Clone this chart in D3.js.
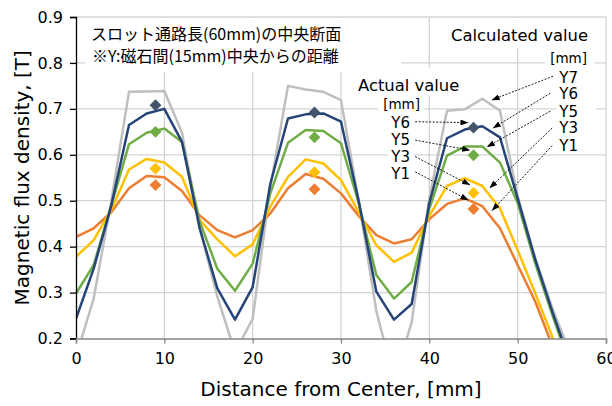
<!DOCTYPE html>
<html>
<head>
<meta charset="utf-8">
<script src="https://cdn.jsdelivr.net/npm/d3@7"></script>
<style>
  body { margin: 0; background: #fff; }
  svg { display: block; font-family: "DejaVu Sans", Verdana, sans-serif; }
  .jp { font-family: "Noto Sans CJK JP", sans-serif; }
</style>
</head>
<body>
<svg id="chart" width="612" height="406"></svg>
<script>
// ---------- Data ----------
const distance = [0, 2, 4, 6, 8, 10, 12, 14, 16, 18, 20, 22, 24, 26, 28,
                  30, 32, 34, 36, 38, 40, 42, 44, 46, 48, 50, 52, 54, 56];

// calculated value [T]
const calcY7 = [0.160, 0.287, 0.500, 0.737, 0.738, 0.739, 0.648, 0.440, 0.291, 0.170, 0.243, 0.530, 0.750, 0.742, 0.737,
                0.719, 0.500, 0.260, 0.110, 0.235, 0.505, 0.696, 0.699, 0.722, 0.696, 0.510, 0.375, 0.262, 0.166];
const calcY6 = [0.243, 0.352, 0.490, 0.665, 0.690, 0.700, 0.628, 0.440, 0.309, 0.241, 0.312, 0.537, 0.679, 0.688, 0.690,
                0.672, 0.500, 0.302, 0.241, 0.275, 0.495, 0.636, 0.655, 0.662, 0.638, 0.505, 0.371, 0.254, 0.146];
const calcY5 = [0.298, 0.360, 0.490, 0.623, 0.648, 0.657, 0.628, 0.455, 0.352, 0.304, 0.363, 0.516, 0.626, 0.654, 0.652,
                0.625, 0.495, 0.338, 0.287, 0.323, 0.483, 0.598, 0.618, 0.618, 0.583, 0.495, 0.363, 0.247, 0.137];
const calcY3 = [0.378, 0.414, 0.480, 0.568, 0.591, 0.583, 0.552, 0.458, 0.416, 0.379, 0.405, 0.487, 0.552, 0.590, 0.581,
                0.545, 0.475, 0.403, 0.367, 0.387, 0.467, 0.532, 0.549, 0.532, 0.483, 0.392, 0.298, 0.200, 0.100];
const calcY1 = [0.421, 0.440, 0.475, 0.527, 0.554, 0.551, 0.521, 0.468, 0.436, 0.420, 0.436, 0.472, 0.527, 0.558, 0.548,
                0.516, 0.467, 0.425, 0.407, 0.416, 0.460, 0.493, 0.505, 0.488, 0.440, 0.360, 0.280, 0.180, 0.080];

// actual (measured) value [T]
const actualDist = [9, 27, 45];
const actY6 = [0.708, 0.692, 0.659];
const actY5 = [0.650, 0.638, 0.599];
const actY3 = [0.570, 0.562, 0.517];
const actY1 = [0.534, 0.525, 0.482];

const xTicks = [0, 10, 20, 30, 40, 50, 60];
const yTicks = [0.2, 0.3, 0.4, 0.5, 0.6, 0.7, 0.8, 0.9];

const calcSeries = [
  { name: "Y7", values: calcY7, color: "#bfbfbf" },
  { name: "Y1", values: calcY1, color: "#ed7d31" },
  { name: "Y3", values: calcY3, color: "#ffc000" },
  { name: "Y5", values: calcY5, color: "#70ad47" },
  { name: "Y6", values: calcY6, color: "#264478" }
];
const actSeries = [
  { name: "Y6", values: actY6, color: "#44546a" },
  { name: "Y5", values: actY5, color: "#70ad47" },
  { name: "Y3", values: actY3, color: "#ffc000" },
  { name: "Y1", values: actY1, color: "#ed7d31" }
];

// ---------- Layout ----------
const width = 612, height = 406;
const margin = { top: 17, right: 6, bottom: 67.5, left: 76 };
const svg = d3.select("#chart");

const x = d3.scaleLinear().domain([0, 60]).range([margin.left, width - margin.right]);
const y = d3.scaleLinear().domain([0.2, 0.9]).range([height - margin.bottom, margin.top]);

svg.append("defs").append("clipPath").attr("id", "plot")
  .append("rect")
  .attr("x", x(0)).attr("y", y(0.9))
  .attr("width", x(60) - x(0)).attr("height", y(0.2) - y(0.9));

// ---------- Grid ----------
const grid = svg.append("g").attr("stroke", "#d4d4d4").attr("stroke-width", 1.3);
grid.selectAll(".h").data(yTicks.slice(1)).join("line")
  .attr("x1", x(0)).attr("x2", x(60))
  .attr("y1", d => y(d)).attr("y2", d => y(d));
grid.selectAll(".v").data(xTicks.slice(1)).join("line")
  .attr("x1", d => x(d)).attr("x2", d => x(d))
  .attr("y1", y(0.9)).attr("y2", y(0.2));

// ---------- Calculated lines ----------
const line = d3.line().x((d, i) => x(distance[i])).y(d => y(d));
svg.append("g").attr("clip-path", "url(#plot)")
  .selectAll("path").data(calcSeries).join("path")
  .attr("d", d => line(d.values))
  .attr("fill", "none")
  .attr("stroke", d => d.color)
  .attr("stroke-width", 2.5)
  .attr("stroke-linejoin", "round");

// ---------- Actual markers ----------
const diamond = d3.symbol().type(d3.symbolSquare).size(70);
actSeries.forEach(s => {
  svg.append("g").selectAll("path").data(s.values).join("path")
    .attr("d", diamond)
    .attr("transform", (d, i) => `translate(${x(actualDist[i])},${y(d)}) rotate(45)`)
    .attr("fill", s.color);
});

// ---------- Axes ----------
const yAxis = svg.append("g")
  .attr("transform", `translate(${x(0)},0)`)
  .call(d3.axisLeft(y).tickValues(yTicks).tickFormat(d3.format(".1f")).tickSize(6).tickPadding(7));
yAxis.select(".domain").attr("stroke", "#000").attr("stroke-width", 1.3);
yAxis.selectAll(".tick line").attr("stroke", "#000").attr("stroke-width", 1.3);
yAxis.selectAll("text").attr("font-size", 16).attr("fill", "#000")
  .attr("font-family", "DejaVu Sans, Verdana, sans-serif");

const xAxis = svg.append("g")
  .attr("transform", `translate(0,${y(0.2)})`)
  .call(d3.axisBottom(x).tickValues(xTicks).tickSize(5).tickPadding(9));
xAxis.select(".domain").attr("stroke", "#868686").attr("stroke-width", 1.5);
xAxis.selectAll(".tick line").attr("stroke", "#868686").attr("stroke-width", 1.3);
xAxis.selectAll("text").attr("font-size", 16).attr("fill", "#000")
  .attr("font-family", "DejaVu Sans, Verdana, sans-serif");

svg.append("text")
  .attr("x", (x(0) + x(60)) / 2).attr("y", 396)
  .attr("text-anchor", "middle").attr("font-size", 20)
  .text("Distance from Center, [mm]");

svg.append("text")
  .attr("transform", `translate(29,${(y(0.2) + y(0.9)) / 2}) rotate(-90)`)
  .attr("text-anchor", "middle").attr("font-size", 20)
  .text("Magnetic flux density, [T]");

// ---------- Annotation boxes ----------
const boxes = [
  [85, 18, 316, 54],   // japanese note
  [448, 18, 152, 30],  // Calculated value
  [545, 49, 50, 19],   // [mm]
  [556, 68, 40, 86],   // calc labels
  [352, 68, 114, 28],  // Actual value
  [378, 96, 46, 17],   // [mm]
  [388, 113, 26, 69]   // actual labels
];
svg.append("g").selectAll("rect").data(boxes).join("rect")
  .attr("x", d => d[0]).attr("y", d => d[1])
  .attr("width", d => d[2]).attr("height", d => d[3])
  .attr("fill", "#fff");

const note = svg.append("text").attr("class", "jp").attr("font-size", 16).attr("fill", "#000");
note.append("tspan").attr("x", 91).attr("y", 40).text("スロット通路長(60mm)の中央断面");
note.append("tspan").attr("x", 92).attr("y", 62).text("※Y:磁石間(15mm)中央からの距離");

svg.append("text").attr("x", 588).attr("y", 41).attr("text-anchor", "end")
  .attr("font-size", 16.4).text("Calculated value");
svg.append("text").attr("x", 587).attr("y", 63).attr("text-anchor", "end")
  .attr("font-size", 13.5).text("[mm]");
svg.append("text").attr("x", 358).attr("y", 90.7)
  .attr("font-size", 16.4).text("Actual value");
svg.append("text").attr("x", 420).attr("y", 109).attr("text-anchor", "end")
  .attr("font-size", 13.5).text("[mm]");

// label position [px] and arrow end in data units
const calcNotes = [
  { t: "Y7", ly: 82.7, from: [54.0, 0.771], to: [47.05, 0.719] },
  { t: "Y6", ly: 99.3, from: [53.7, 0.734], to: [47.19, 0.658] },
  { t: "Y5", ly: 116.7, from: [53.7, 0.695], to: [46.51, 0.617] },
  { t: "Y3", ly: 133.3, from: [53.9, 0.658], to: [46.81, 0.527] },
  { t: "Y1", ly: 150.7, from: [53.9, 0.620], to: [47.08, 0.478] }
];
const actNotes = [
  { t: "Y6", ly: 127.5, from: [38.4, 0.672], to: [44.43, 0.670] },
  { t: "Y5", ly: 144.5, from: [38.4, 0.632], to: [44.62, 0.610] },
  { t: "Y3", ly: 161.5, from: [38.4, 0.596], to: [44.62, 0.534] },
  { t: "Y1", ly: 178.5, from: [38.4, 0.563], to: [44.43, 0.501] }
];

svg.select("defs").append("marker")
  .attr("id", "arrow").attr("viewBox", "0 0 8 6")
  .attr("refX", 8).attr("refY", 3)
  .attr("markerWidth", 8).attr("markerHeight", 6)
  .attr("markerUnits", "userSpaceOnUse")
  .attr("orient", "auto")
  .append("path").attr("d", "M0,0L8,3L0,6Z").attr("fill", "#000");

function drawNotes(notes, labelX) {
  const g = svg.append("g");
  g.selectAll("text").data(notes).join("text")
    .attr("x", labelX).attr("y", d => d.ly)
    .attr("text-anchor", "end").attr("font-size", 15)
    .text(d => d.t);
  g.selectAll("line").data(notes).join("line")
    .attr("x1", d => x(d.from[0])).attr("y1", d => y(d.from[1]))
    .attr("x2", d => x(d.to[0])).attr("y2", d => y(d.to[1]))
    .attr("stroke", "#000").attr("stroke-width", 0.9)
    .attr("stroke-dasharray", "2,1.5")
    .attr("marker-end", "url(#arrow)");
}
drawNotes(calcNotes, 578);
drawNotes(actNotes, 410);
</script>
</body>
</html>
